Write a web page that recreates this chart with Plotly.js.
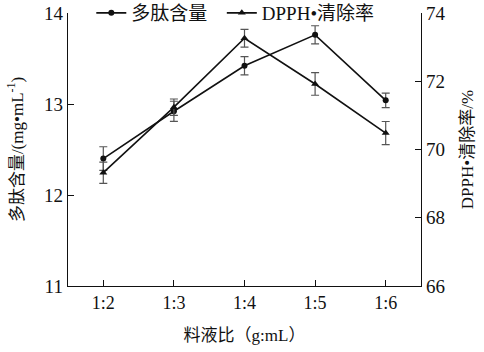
<!DOCTYPE html>
<html><head><meta charset="utf-8">
<script src="https://cdn.plot.ly/plotly-3.0.1.min.js"></script>
<style>body{margin:0;background:#fff}#c{width:484px;height:352px}</style>
</head><body><div id="c"></div>
<script>
var categories = ['1:2','1:3','1:4','1:5','1:6'];
var peptide = [12.40, 12.92, 13.42, 13.76, 13.04];
var peptideErr = [0.13, 0.11, 0.10, 0.10, 0.08];
var dpph = [69.32, 71.24, 73.26, 71.92, 70.48];
var dpphErr = [0.31, 0.24, 0.26, 0.33, 0.34];
var leftTicks = [11, 12, 13, 14];
var rightTicks = [66, 68, 70, 72, 74];
var seriesNames = ['多肽含量\u00a0\u00a0', 'DPPH•清除率'];

var F = '"Liberation Serif","Times New Roman","Noto Sans CJK SC",serif';
var traces = [
  {x: categories, y: peptide, name: seriesNames[0], type: 'scatter', mode: 'lines+markers',
   line: {color: '#111', width: 1.6}, marker: {symbol: 'circle', size: 6, color: '#111'},
   error_y: {type: 'data', array: peptideErr, visible: true, color: '#555', thickness: 1.2, width: 4}},
  {x: categories, y: dpph, name: seriesNames[1], type: 'scatter', mode: 'lines+markers', yaxis: 'y2',
   line: {color: '#111', width: 1.6}, marker: {symbol: 'triangle-up', size: 7, color: '#111'},
   error_y: {type: 'data', array: dpphErr, visible: true, color: '#555', thickness: 1.2, width: 4}}
];
var layout = {
  width: 484, height: 352,
  margin: {l: 68, r: 63, t: 13, b: 66, autoexpand: false},
  paper_bgcolor: '#fff', plot_bgcolor: '#fff',
  font: {family: F, color: '#111', size: 17},
  showlegend: true,
  legend: {orientation: 'h', x: 0.066, xanchor: 'left', y: 1.0, yanchor: 'middle',
           bgcolor: 'rgba(0,0,0,0)', font: {size: 19, family: F}, itemwidth: 30, tracegroupgap: 0},
  xaxis: {type: 'category', range: [-0.5, 4.5], showline: true, linecolor: '#111', linewidth: 1.3,
          ticks: 'inside', ticklen: 6, tickcolor: '#111', showgrid: false, zeroline: false,
          tickfont: {size: 18, family: F},
          title: {text: '料液比（g:mL）', font: {size: 17, family: F}, standoff: 17}},
  yaxis: {range: [11, 14], tickvals: leftTicks, ticktext: leftTicks.map(String),
          showline: true, linecolor: '#111', linewidth: 1.3, ticks: 'inside', ticklen: 6,
          tickcolor: '#111', showgrid: false, zeroline: false, tickfont: {size: 19, family: F},
          title: {text: '多肽含量/(mg•mL<sup>-1</sup>)', font: {size: 17, family: F}, standoff: 16}},
  yaxis2: {range: [66, 74], tickvals: rightTicks, ticktext: rightTicks.map(String),
           overlaying: 'y', side: 'right', showline: true, linecolor: '#111', linewidth: 1.3,
           ticks: 'inside', ticklen: 6, tickcolor: '#111', showgrid: false, zeroline: false,
           tickfont: {size: 19, family: F},
           title: {text: 'DPPH•清除率/%', font: {size: 17, family: F}, standoff: 16}}
};
Plotly.newPlot('c', traces, layout, {displayModeBar: false, staticPlot: true});
</script></body></html>
